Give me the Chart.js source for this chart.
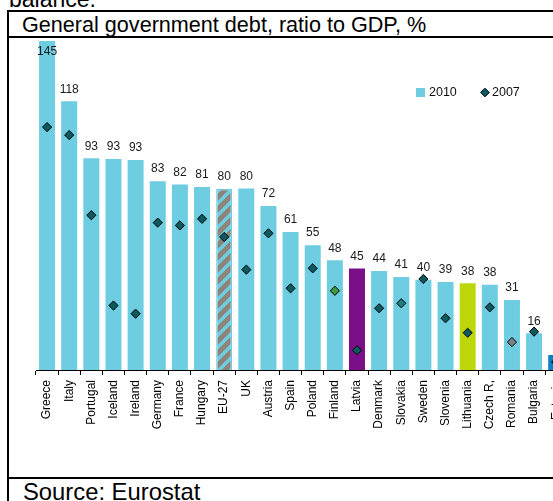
<!DOCTYPE html>
<html><head><meta charset="utf-8">
<script src="https://cdn.jsdelivr.net/npm/chart.js@4.4.0/dist/chart.umd.min.js"></script>
<style>
html,body{margin:0;padding:0;background:#fff;overflow:hidden;width:553px;height:501px;}
body{position:relative;font-family:Arial,"Liberation Sans",sans-serif;color:#000;}
.t{position:absolute;white-space:nowrap;line-height:1;}
.ln{position:absolute;background:#000;z-index:2;}
#c{position:absolute;left:0;top:37px;}
</style></head><body>
<div class="t" style="left:9px;top:-12.5px;font-size:23px;">balance:</div>
<div class="t" style="left:22px;top:13.7px;font-size:21.6px;">General government debt, ratio to GDP, %</div>
<div class="t" style="left:23px;top:479.8px;font-size:23.8px;">Source: Eurostat</div>
<div class="ln" style="left:7px;top:10px;width:2px;height:491px;"></div>
<div class="ln" style="left:7px;top:10px;width:560px;height:2px;"></div>
<div class="ln" style="left:7px;top:36px;width:560px;height:2px;"></div>
<div class="ln" style="left:7px;top:477px;width:560px;height:2px;"></div>
<canvas id="c" width="600" height="440"></canvas>
<script>
const categories = ['Greece','Italy','Portugal','Iceland','Ireland','Germany','France','Hungary','EU-27','UK','Austria','Spain','Poland','Finland','Latvia','Denmark','Slovakia','Sweden','Slovenia','Lithuania','Czech R,','Romania','Bulgaria','Estonia'];
const debt2010 = [144.9,118.4,93.3,93.0,92.5,83.2,81.7,80.6,79.8,80.0,72.3,60.8,55.0,48.3,44.7,43.6,41.0,39.8,38.8,38.2,37.6,30.8,16.2,6.6];
const debt2007 = [107.0,103.5,68.2,28.4,24.8,64.9,63.7,66.6,58.6,44.2,60.2,36.0,44.8,34.9,8.7,27.2,29.4,40.1,22.8,16.4,27.6,12.3,16.9,3.5];
const seriesNames = ['2010','2007'];

const CYAN = '#6fcde1';
const DIAM = '#0b5a60';

function hatch(){
  const s = 12, p = document.createElement('canvas');
  p.width = s; p.height = s;
  const g = p.getContext('2d');
  g.fillStyle = '#8c847a'; g.fillRect(0,0,s,s);
  g.strokeStyle = CYAN; g.lineWidth = 3.5;
  g.beginPath();
  g.moveTo(-2, s+2); g.lineTo(s+2, -2);
  g.moveTo(-s/2-2, s/2+2); g.lineTo(s/2+2, -s/2-2);
  g.moveTo(s/2-2, s*1.5+2); g.lineTo(s*1.5+2, s/2-2);
  g.stroke();
  return document.getElementById('c').getContext('2d').createPattern(p,'repeat');
}
const special = {'EU-27': hatch(), 'Latvia': '#7b0f8a', 'Lithuania': '#bdd70b', 'Estonia': '#0b80c3'};
const barColors = categories.map(c => special[c] || CYAN);
const barBorderW = categories.map(c => c === 'EU-27' ? 1.5 : 0);
const diamSpecial = {'Finland': '#3b9b3d', 'Romania': '#7c8088', 'Slovakia': '#1c7c7e'};
const diamColors = categories.map(c => diamSpecial[c] || DIAM);

const valueLabels = {
  id: 'valueLabels',
  afterDatasetsDraw(chart){
    const ctx = chart.ctx, meta = chart.getDatasetMeta(0);
    ctx.save();
    ctx.font = '12px Arial, "Liberation Sans"';
    ctx.fillStyle = '#1a1a1a';
    ctx.textAlign = 'center'; ctx.textBaseline = 'middle';
    meta.data.forEach((bar, i) => {
      const y = Math.max(bar.y - 12, chart.chartArea.top + 15);
      ctx.fillText(String(Math.round(debt2010[i])), bar.x, y);
    });
    ctx.restore();
  }
};

const legendPlugin = {
  id: 'customLegend',
  afterDraw(chart){
    const ctx = chart.ctx;
    const y = 55.5;
    ctx.save();
    ctx.fillStyle = CYAN;
    ctx.fillRect(416, y - 4.5, 9, 9);
    ctx.font = '12.5px Arial, "Liberation Sans"';
    ctx.fillStyle = '#111';
    ctx.textAlign = 'left'; ctx.textBaseline = 'middle';
    ctx.fillText(seriesNames[0], 429, y + 0.5);
    ctx.beginPath();
    ctx.moveTo(485, y - 4.3); ctx.lineTo(489.3, y); ctx.lineTo(485, y + 4.3); ctx.lineTo(480.7, y); ctx.closePath();
    ctx.fillStyle = DIAM; ctx.fill();
    ctx.strokeStyle = '#000'; ctx.lineWidth = 1; ctx.stroke();
    ctx.fillStyle = '#111';
    ctx.fillText(seriesNames[1], 492, y + 0.5);
    ctx.restore();
  }
};

new Chart(document.getElementById('c'), {
  type: 'bar',
  data: {
    labels: categories,
    datasets: [
      { label: seriesNames[0], data: debt2010, backgroundColor: barColors, borderColor: CYAN, borderWidth: barBorderW,
        barPercentage: 0.7226, categoryPercentage: 1.0, order: 1 },
      { type: 'line', label: seriesNames[1], data: debt2007, showLine: false, pointStyle: 'rectRot',
        pointRadius: 4.6, pointHoverRadius: 4.6, pointBackgroundColor: diamColors, pointBorderColor: '#000',
        pointBorderWidth: 1, order: 0, clip: false }
    ]
  },
  options: {
    responsive: false,
    animation: false,
    events: [],
    layout: { autoPadding: false, padding: { left: 36, right: 32.7, top: 0, bottom: 0 } },
    plugins: { legend: { display: false }, tooltip: { enabled: false }, title: { display: false } },
    scales: {
      x: {
        offset: true,
        grid: { offset: true, drawOnChartArea: false, drawTicks: true, tickLength: 5, color: '#000', lineWidth: 1 },
        border: { display: true, color: '#000', width: 1 },
        ticks: { autoSkip: false, minRotation: 90, maxRotation: 90, padding: 5, color: '#000',
                 font: { family: 'Arial, "Liberation Sans"', size: 12 } },
        afterFit(scale){ scale.height = 107; }
      },
      y: { display: false, min: 0, max: 146.7 }
    }
  },
  plugins: [valueLabels, legendPlugin]
});
</script>
</body></html>
